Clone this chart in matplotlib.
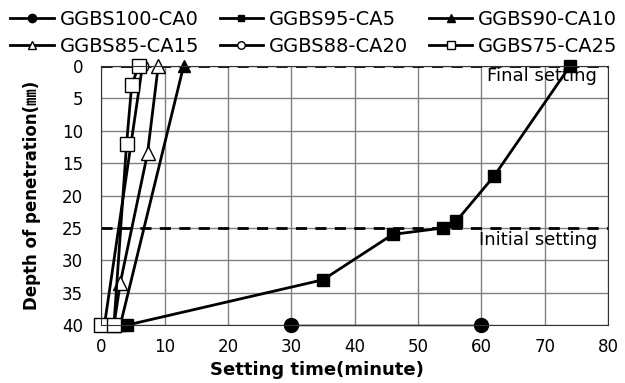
import matplotlib.pyplot as plt
import numpy as np

plt.rcParams['font.family'] = ['DejaVu Sans', 'Noto Sans CJK KR']

# data (time in minutes, depth in mm)
t_100 = [30, 60]
d_100 = [40, 40]

t_95 = [4, 35, 46, 54, 56, 62, 74]
d_95 = [40, 33, 26, 25, 24, 17, 0]

t_90 = [3, 13]
d_90 = [40, 0]

t_85 = [2, 3, 7.3, 9]
d_85 = [40, 33.5, 13.5, 0]

t_88 = [0.5, 6.5]
d_88 = [40, 0]

t_75 = [0, 2, 4, 4.8, 5.9]
d_75 = [40, 40, 12, 3, 0]

fig = plt.figure(figsize=(6.25, 3.83), dpi=100)
ax = fig.add_axes([0.162, 0.151, 0.811, 0.677])

kw = dict(color='black', lw=2, clip_on=False)
ax.plot(t_100, d_100, marker='o', ms=10, label='GGBS100-CA0', color='black',
        lw=1, clip_on=False)
ax.plot(t_95, d_95, marker='s', ms=8, label='GGBS95-CA5', **kw)
ax.plot(t_90, d_90, marker='^', ms=9, label='GGBS90-CA10', **kw)
ax.plot(t_88, d_88, marker='o', ms=9, mfc='white', label='GGBS88-CA20', **kw)
ax.plot(t_85, d_85, marker='^', ms=10, mfc='white', label='GGBS85-CA15', **kw)
ax.plot(t_75, d_75, marker='s', ms=10, mfc='white', label='GGBS75-CA25', **kw)

# setting reference lines
ax.axhline(0, color='black', ls='--', lw=2, dashes=(4, 3), zorder=1)
ax.axhline(25, color='black', ls='--', lw=2, dashes=(4, 3), zorder=1)
ax.text(78.3, 0.2, 'Final setting', ha='right', va='top', fontsize=13)
ax.text(78.3, 25.4, 'Initial setting', ha='right', va='top', fontsize=13)

ax.set_xlim(0, 80)
ax.set_ylim(40, 0)
ax.set_xticks(np.arange(0, 81, 10))
ax.set_yticks(np.arange(0, 41, 5))
ax.grid(True, color='#808080', lw=1)
ax.set_axisbelow(True)
ax.tick_params(labelsize=12, length=0)
ax.tick_params(axis='y', pad=13)
ax.tick_params(axis='x', pad=9)
for s in ax.spines.values():
    s.set_color('#333333')

ax.set_xlabel('Setting time(minute)', fontsize=13, fontweight='bold')
ax.xaxis.set_label_coords(0.426, -0.14)
ax.set_ylabel('Depth of penetration(\u339c)', fontsize=12, fontweight='bold', labelpad=15)

h, l = ax.get_legend_handles_labels()
order = [0, 4, 1, 3, 2, 5]
leg = fig.legend([h[i] for i in order], [l[i] for i in order], ncol=3, loc='upper left',
                 bbox_to_anchor=(10 / 625, 0.975), frameon=False, fontsize=14,
                 handlelength=2.25, handletextpad=0.3, columnspacing=1.05,
                 labelspacing=0.42, borderpad=0, borderaxespad=0, markerscale=0.6)
for line in leg.get_lines():
    line.set_linewidth(2)

fig.savefig('out.png', dpi=100)
